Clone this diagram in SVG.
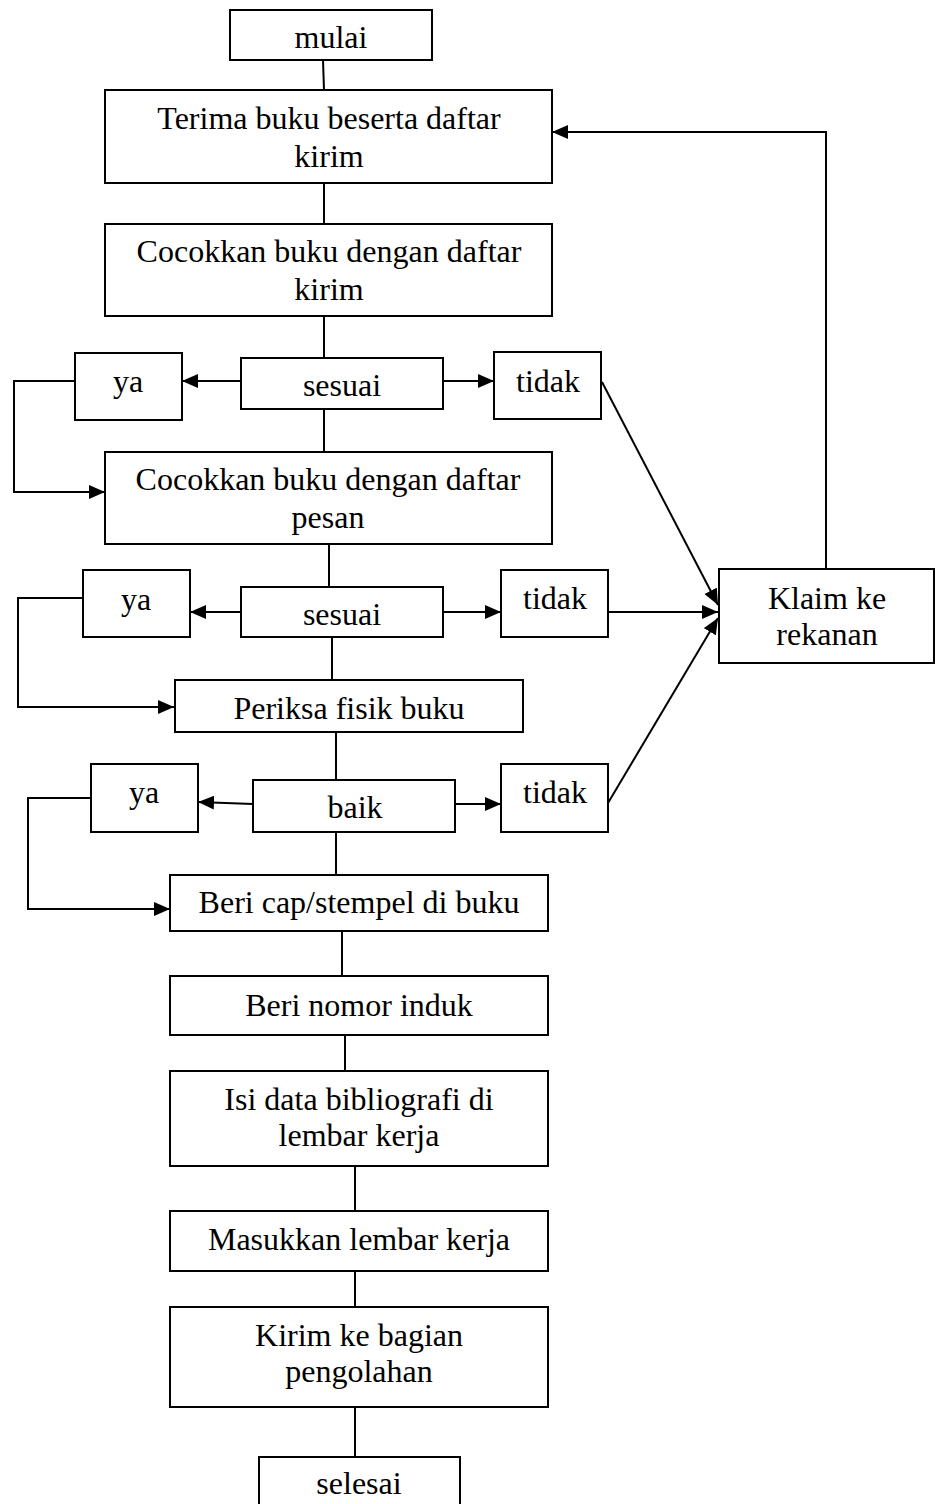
<svg xmlns="http://www.w3.org/2000/svg" width="935" height="1504" viewBox="0 0 935 1504">
<defs>
<style>
.box{fill:#fff;stroke:#000;stroke-width:2}
.t{font-family:"Liberation Serif","Times New Roman",serif;font-size:32px;fill:#000;text-anchor:middle}
.c{fill:none;stroke:#000;stroke-width:2}
.a{marker-end:url(#ah)}
</style>
<marker id="ah" markerUnits="userSpaceOnUse" markerWidth="16" markerHeight="14" refX="16" refY="7" orient="auto">
<path d="M0,0 L16,7 L0,14 z" fill="#000"/>
</marker>
</defs>
<rect width="935" height="1504" fill="#fff"/>
<g id="connectors">
<path class="c" d="M323,60 L324,90"/>
<path class="c" d="M324,183 L324,224"/>
<path class="c" d="M324,316 L324,358"/>
<path class="c a" d="M241,381 L182,381"/>
<path class="c a" d="M443,381 L494,381"/>
<path class="c a" d="M75,381 L14,381 L14,492 L105,492"/>
<path class="c" d="M324,409 L324,452"/>
<path class="c" d="M329,544 L329,587"/>
<path class="c a" d="M241,612 L190,612"/>
<path class="c a" d="M443,612 L501,612"/>
<path class="c a" d="M83,598 L18,598 L18,707 L174,707"/>
<path class="c" d="M332,637 L332,680"/>
<path class="c" d="M336,732 L336,780"/>
<path class="c a" d="M253,804 L198,802"/>
<path class="c a" d="M455,804 L501,804"/>
<path class="c a" d="M91,798 L28,798 L28,909 L170,909"/>
<path class="c" d="M336,832 L336,875"/>
<path class="c" d="M342,931 L342,976"/>
<path class="c" d="M345,1035 L345,1071"/>
<path class="c" d="M355,1166 L355,1211"/>
<path class="c" d="M355,1271 L355,1307"/>
<path class="c" d="M355,1407 L355,1457"/>
<path class="c a" d="M602,382 L718,605"/>
<path class="c a" d="M608,612 L718,612"/>
<path class="c a" d="M608,803 L718,618"/>
<path class="c a" d="M826,569 L826,132 L552,132"/>
</g>
<g id="mulai"><rect class="box" x="230" y="10" width="202" height="50"/><text class="t" x="331" y="48">mulai</text></g>
<g id="terima"><rect class="box" x="105" y="90" width="447" height="93"/><text class="t" x="329" y="129">Terima buku beserta daftar</text><text class="t" x="329" y="167">kirim</text></g>
<g id="cocok1"><rect class="box" x="105" y="224" width="447" height="92"/><text class="t" x="329" y="262">Cocokkan buku dengan daftar</text><text class="t" x="329" y="300">kirim</text></g>
<g id="ya1"><rect class="box" x="75" y="353" width="107" height="67"/><text class="t" x="128" y="392">ya</text></g>
<g id="sesuai1"><rect class="box" x="241" y="358" width="202" height="51"/><text class="t" x="342" y="396">sesuai</text></g>
<g id="tidak1"><rect class="box" x="494" y="352" width="107" height="67"/><text class="t" x="548" y="392">tidak</text></g>
<g id="cocok2"><rect class="box" x="105" y="452" width="447" height="92"/><text class="t" x="328" y="490">Cocokkan buku dengan daftar</text><text class="t" x="328" y="528">pesan</text></g>
<g id="ya2"><rect class="box" x="83" y="570" width="107" height="67"/><text class="t" x="136" y="610">ya</text></g>
<g id="sesuai2"><rect class="box" x="241" y="587" width="202" height="50"/><text class="t" x="342" y="625">sesuai</text></g>
<g id="tidak2"><rect class="box" x="501" y="570" width="107" height="67"/><text class="t" x="555" y="609">tidak</text></g>
<g id="klaim"><rect class="box" x="719" y="569" width="215" height="94"/><text class="t" x="827" y="609">Klaim ke</text><text class="t" x="827" y="645">rekanan</text></g>
<g id="periksa"><rect class="box" x="175" y="680" width="348" height="52"/><text class="t" x="349" y="719">Periksa fisik buku</text></g>
<g id="ya3"><rect class="box" x="91" y="764" width="107" height="68"/><text class="t" x="144" y="803">ya</text></g>
<g id="baik"><rect class="box" x="253" y="780" width="202" height="52"/><text class="t" x="355" y="818">baik</text></g>
<g id="tidak3"><rect class="box" x="501" y="764" width="107" height="68"/><text class="t" x="555" y="803">tidak</text></g>
<g id="cap"><rect class="box" x="170" y="875" width="378" height="56"/><text class="t" x="359" y="913">Beri cap/stempel di buku</text></g>
<g id="nomor"><rect class="box" x="170" y="976" width="378" height="59"/><text class="t" x="359" y="1016">Beri nomor induk</text></g>
<g id="isi"><rect class="box" x="170" y="1071" width="378" height="95"/><text class="t" x="359" y="1110">Isi data bibliografi di</text><text class="t" x="359" y="1146">lembar kerja</text></g>
<g id="masukkan"><rect class="box" x="170" y="1211" width="378" height="60"/><text class="t" x="359" y="1250">Masukkan lembar kerja</text></g>
<g id="kirim"><rect class="box" x="170" y="1307" width="378" height="100"/><text class="t" x="359" y="1346">Kirim ke bagian</text><text class="t" x="359" y="1382">pengolahan</text></g>
<g id="selesai"><rect class="box" x="259" y="1457" width="201" height="60"/><text class="t" x="359" y="1494">selesai</text></g>
</svg>
